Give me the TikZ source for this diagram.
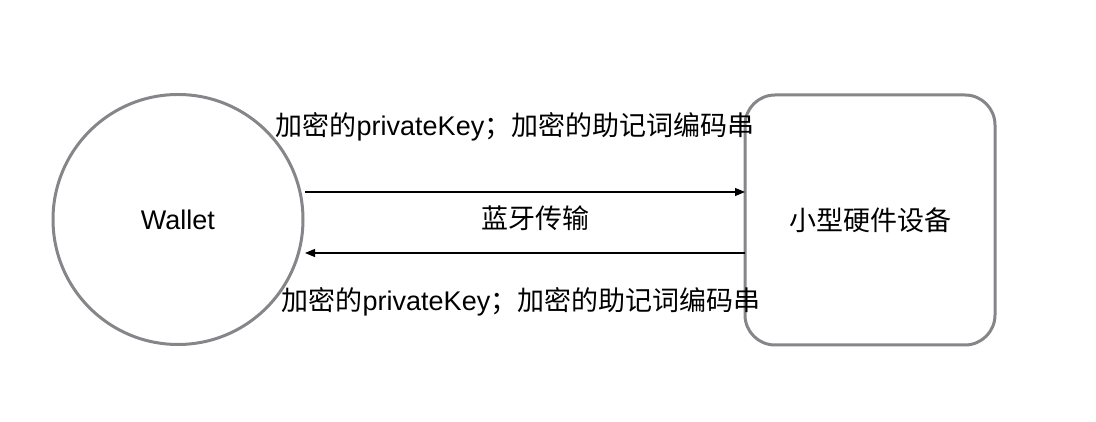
\documentclass[tikz,border=0pt]{standalone}
\usepackage{fontspec}
\setmainfont{Liberation Sans}
\newfontfamily\cjk{Noto Sans CJK SC}
\usetikzlibrary{arrows.meta}
\definecolor{shapegray}{RGB}{134,134,138}

\begin{document}
\begin{tikzpicture}[x=1pt,y=1pt,font=\fontsize{27}{31}\selectfont]
        \useasboundingbox (0,0) rectangle (1096,422);

        \begin{scope}[every node/.style={draw=shapegray, line width=3pt, inner sep=0pt, outer sep=0pt, minimum size=250pt}]
          \node[circle] (wallet) at (178,202.5) {Wallet};
          \node[rectangle, rounded corners=30pt] (device) at (870,202) {\cjk 小型硬件设备};
        \end{scope}

        \coordinate (top)    at (305,230);
        \coordinate (bottom) at (305,169);

        \begin{scope}[every edge/.style={draw, line width=1.1pt, -{Triangle[length=10pt,width=8pt]}}]
          \path (top)                edge (device.west |- top);
          \path (device.west |- bottom) edge (bottom);
        \end{scope}

        \begin{scope}[every node/.style={inner sep=0pt}]
          \node (sendlabel) at (515,295) {{\cjk 加密的}privateKey{\cjk ；加密的助记词编码串}};
          \node (bluetooth) at (535,204) {\cjk 蓝牙传输};
          \node (backlabel) at (521,120) {{\cjk 加密的}privateKey{\cjk ；加密的助记词编码串}};
        \end{scope}

      \end{tikzpicture}
\end{document}
